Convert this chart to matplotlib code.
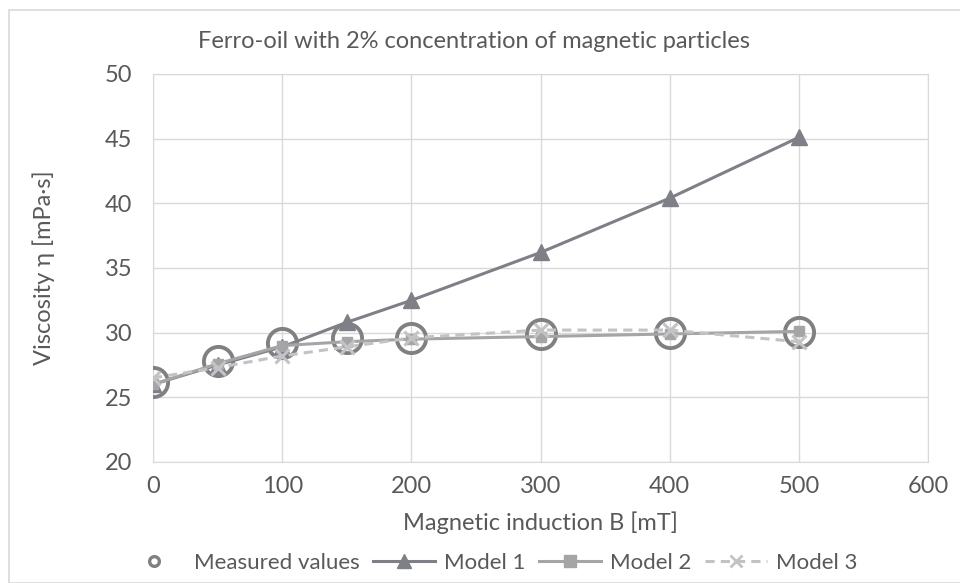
import matplotlib.pyplot as plt
from matplotlib.lines import Line2D
from matplotlib.patches import Rectangle

plt.rcParams["font.family"] = ["Lato", "DejaVu Sans"]

# Daten
induction = [0, 50, 100, 150, 200, 300, 400, 500]
measured = [26.2, 27.8, 29.2, 29.6, 29.6, 29.9, 30.0, 30.05]
model_1 = [26.0, 27.5, 28.9, 30.8, 32.5, 36.2, 40.4, 45.1]
model_2 = [26.0, 27.6, 29.0, 29.3, 29.5, 29.7, 29.9, 30.1]
model_3 = [26.5, 27.3, 28.2, 28.9, 29.6, 30.2, 30.2, 29.3]

text_col = "#595959"
grid_col = "#d9d9d9"

fig = plt.figure(figsize=(9.6, 5.83), dpi=100)
ax = fig.add_axes([153 / 960, 1 - 462 / 583, 775 / 960, 388 / 583])

# Rahmen um das ganze Diagramm
fig.patches.append(Rectangle((9 / 960, 0), 1.2, (583 - 10) / 583, transform=fig.transFigure,
                             fill=False, edgecolor="#d9d9d9", linewidth=1.2))

ax.plot(induction, measured, linestyle="none", marker="o", markersize=21,
        markerfacecolor="none", markeredgecolor="#808080", markeredgewidth=2.8, zorder=3)
ax.plot(induction, model_1, color="#7f8087", linewidth=2.2, marker="^", markersize=11, zorder=4)
ax.plot(induction, model_2, color="#a5a5a8", linewidth=2.2, marker="s", markersize=7, zorder=5)
ax.plot(induction, model_3, color="#c3c3c6", linewidth=2.2, linestyle=(0, (3, 2)),
        marker="x", markersize=10, markeredgewidth=2.2, zorder=6)

ax.set_xlim(0, 600)
ax.set_ylim(20, 50)
ax.set_xticks(range(0, 601, 100))
ax.set_yticks(range(20, 51, 5))
ax.grid(color=grid_col, linewidth=1)
ax.set_axisbelow(True)
for s in ax.spines.values():
    s.set_color(grid_col)
ax.tick_params(length=0, labelsize=17, colors=text_col)
ax.tick_params(axis="y", pad=15)
ax.tick_params(axis="x", pad=10)

fig.text(540 / 960, 1 - 523 / 583, "Magnetic induction B [mT]", ha="center", va="center",
         fontsize=17, color=text_col)
fig.text(44 / 960, 1 - 268 / 583, "Viscosity η [mPa·s]", ha="center", va="center",
         rotation=90, fontsize=17, color=text_col)
fig.text(474 / 960, 1 - 42 / 583, "Ferro-oil with 2% concentration of magnetic particles",
         ha="center", va="center", fontsize=17, color=text_col)

handles = [
    Line2D([], [], linestyle="none", marker="o", markersize=7, markerfacecolor="none",
           markeredgecolor="#808080", markeredgewidth=2.4),
    Line2D([], [], color="#7f8087", linewidth=2.2, marker="^", markersize=10),
    Line2D([], [], color="#a5a5a8", linewidth=2.2, marker="s", markersize=8),
    Line2D([], [], color="#c3c3c6", linewidth=2.2, linestyle=(0, (3, 2)), marker="x",
           markersize=9, markeredgewidth=2),
]
labels = ["Measured values", "Model 1", "Model 2", "Model 3"]
fig.legend(handles, labels, loc="center", bbox_to_anchor=(490 / 960, 1 - 563 / 583), ncol=4,
           frameon=False, fontsize=16, labelcolor=text_col, handlelength=2.8, columnspacing=0.6,
           handletextpad=0.4)

fig.savefig("out.png", dpi=100)
